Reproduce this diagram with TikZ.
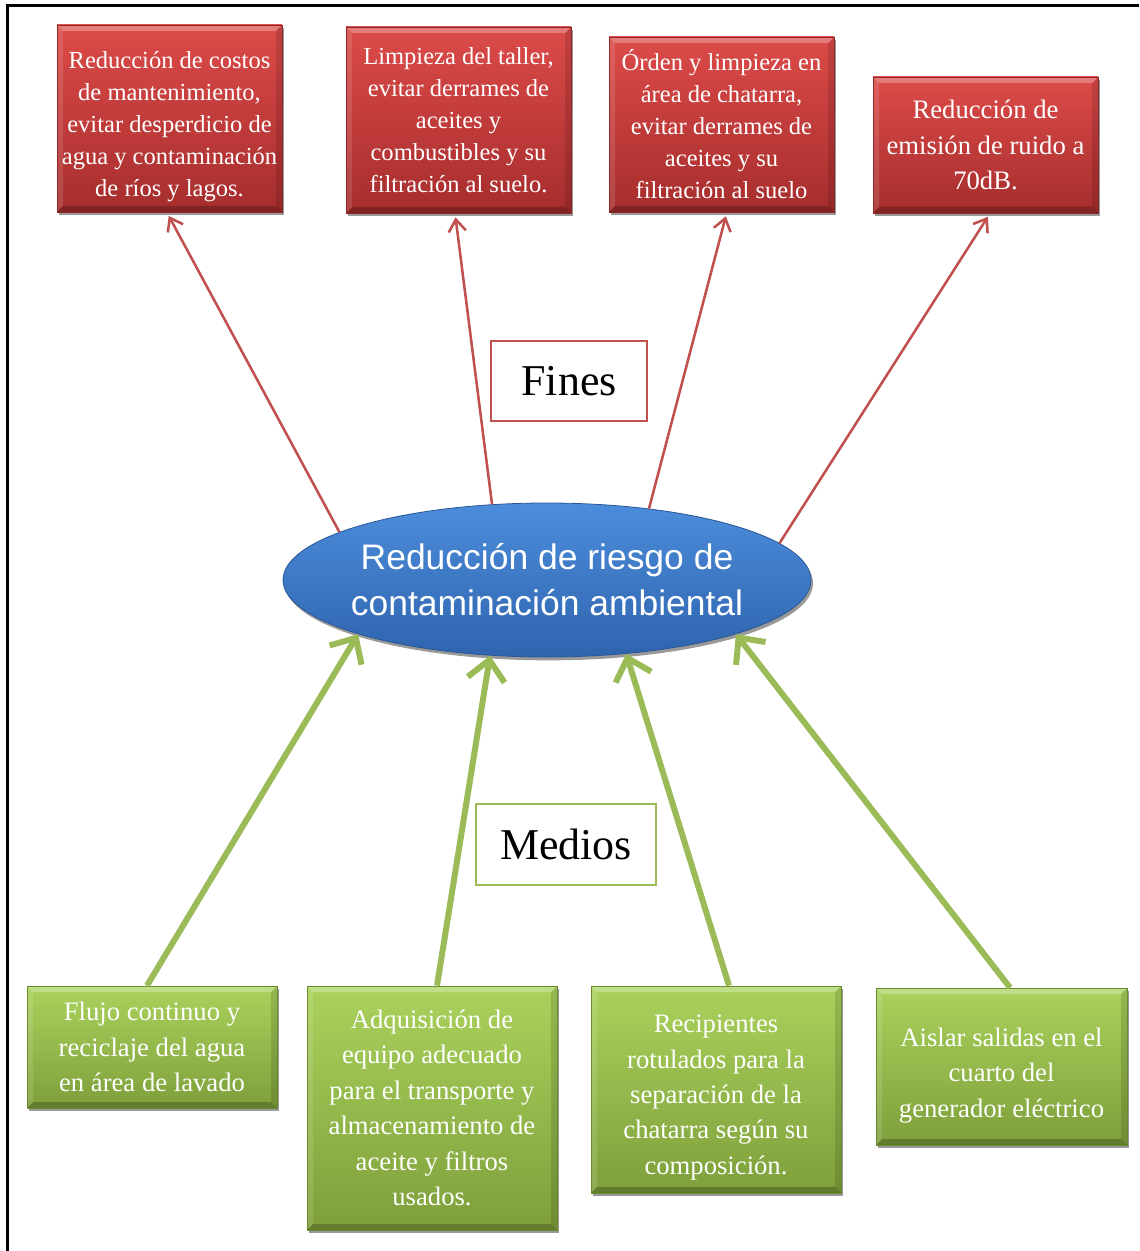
\documentclass[tikz,border=0pt]{standalone}
\usepackage{fontspec}
\setmainfont{Liberation Serif}
\newfontfamily\labelsans{Liberation Sans}
\usetikzlibrary{arrows.meta,shadows,shapes.geometric}

\definecolor{finline}{HTML}{C0504D}
\definecolor{redtop}{HTML}{DC4B49}
\definecolor{redbot}{HTML}{A62D2D}
\definecolor{rededge}{HTML}{8E2626}
\definecolor{medline}{HTML}{9BBB59}
\definecolor{greentop}{HTML}{AAD25C}
\definecolor{greenbot}{HTML}{7E9F3B}
\definecolor{greenedge}{HTML}{6A8A30}
\definecolor{bluetop}{HTML}{4C8DDB}
\definecolor{bluebot}{HTML}{2F64AE}
\definecolor{blueedge}{HTML}{2A5896}

% lower a centred block of lines without changing its size
\newcommand{\lowerblock}[3]{\raisebox{-#1}[\height][\depth]{\parbox{#2}{\centering #3}}}

\tikzset{
  x=0.75pt, y=-0.75pt,
  boxshadow/.style={drop shadow={shadow xshift=1.5pt, shadow yshift=-2.5pt, opacity=0.4, fill=black}},
  % soft bevel: light band on top and left, dark band on bottom and right
  bevel/.style={path picture={
    \coordinate (bnw) at (path picture bounding box.north west);
    \coordinate (bne) at (path picture bounding box.north east);
    \coordinate (bsw) at (path picture bounding box.south west);
    \coordinate (bse) at (path picture bounding box.south east);
    \fill[white, opacity=0.28] (bnw) -- (bne) -- ([xshift=-4.5pt,yshift=-4.5pt]bne) -- ([xshift=4.5pt,yshift=-4.5pt]bnw) -- cycle;
    \fill[white, opacity=0.12] (bnw) -- ([xshift=4.5pt,yshift=-4.5pt]bnw) -- ([xshift=4.5pt,yshift=4.5pt]bsw) -- (bsw) -- cycle;
    \fill[black, opacity=0.22] (bsw) -- (bse) -- ([xshift=-4.5pt,yshift=4.5pt]bse) -- ([xshift=4.5pt,yshift=4.5pt]bsw) -- cycle;
    \fill[black, opacity=0.12] (bne) -- (bse) -- ([xshift=-4.5pt,yshift=4.5pt]bse) -- ([xshift=-4.5pt,yshift=-4.5pt]bne) -- cycle;
  }},
  finbox/.style={rectangle, draw=rededge, line width=0.6pt, top color=redtop, bottom color=redbot,
    text=white, align=center, inner sep=0pt, boxshadow, bevel,
    font=\fontsize{18.4}{24}\selectfont},
  medbox/.style={rectangle, draw=greenedge, line width=0.6pt, top color=greentop, bottom color=greenbot,
    text=white, align=center, inner sep=0pt, boxshadow, bevel,
    font=\fontsize{20}{26.6}\selectfont},
  tagbox/.style={rectangle, fill=white, line width=1.9pt, inner sep=0pt, text=black,
    font=\fontsize{33}{38}\selectfont},
  hub/.style={ellipse, draw=blueedge, line width=0.6pt, top color=bluetop, bottom color=bluebot,
    text=white, align=center, inner xsep=-40pt, inner ysep=-12pt,
    minimum width=396pt, minimum height=115.5pt,
    boxshadow, font=\labelsans\fontsize{26.6}{34.5}\selectfont},
  finarrow/.style={draw=finline, line width=1.9pt, shorten >=3pt,
    -{Straight Barb[length=9pt, width=13pt]}},
  medarrow/.style={draw=medline, line width=4.5pt,
    -{Straight Barb[length=15pt, width=28pt]}},
}

\begin{document}
\begin{tikzpicture}
\useasboundingbox (0,0) rectangle (1139,1251);

% page frame (top and left edges)
\draw[line width=2.25pt] (7,1251) -- (7,6) -- (1139,6);

% central problem
\node[hub] (ell) at (547,580) {Reducción de riesgo de\\contaminación ambiental};

% ends
\node[finbox, minimum width=168.75pt, minimum height=140.25pt] (r1) at (169.5,118.5)
  {\lowerblock{6pt}{168pt}{Reducción de costos\\de mantenimiento,\\evitar desperdicio de\\agua y contaminación\\de ríos y lagos.}};
\node[finbox, minimum width=168.75pt, minimum height=139.5pt] (r2) at (458.5,120)
  {Limpieza del taller,\\evitar derrames de\\aceites y\\combustibles y su\\filtración al suelo.};
\node[finbox, minimum width=168.75pt, minimum height=131.25pt] (r3) at (721.5,124.5)
  {Órden y limpieza en\\área de chatarra,\\evitar derrames de\\aceites y su\\filtración al suelo};
\node[finbox, minimum width=168.75pt, minimum height=102pt, font=\fontsize{20}{26.6}\selectfont] (r4) at (985.5,145)
  {Reducción de\\emisión de ruido a\\70dB.};

% means
\node[medbox, minimum width=187.5pt, minimum height=91.5pt] (g1) at (152,1047)
  {Flujo continuo y\\reciclaje del agua\\en área de lavado};
\node[medbox, minimum width=187.5pt, minimum height=183pt] (g2) at (432,1108)
  {Adquisición de\\equipo adecuado\\para el transporte y\\almacenamiento de\\aceite y filtros\\usados.};
\node[medbox, minimum width=187.5pt, minimum height=155.25pt] (g3) at (716,1089.5)
  {\lowerblock{6pt}{186pt}{Recipientes\\rotulados para la\\separación de la\\chatarra según su\\composición.}};
\node[medbox, minimum width=188.25pt, minimum height=117.75pt] (g4) at (1001.5,1066.5)
  {\lowerblock{6.5pt}{186pt}{Aislar salidas en el\\cuarto del\\generador eléctrico}};

% arrows towards the ends
\draw[finarrow] (ell.167) -- ([xshift=-2pt]r1.south);
\draw[finarrow] (ell.126) -- ([xshift=-2.6pt]r2.south);
\draw[finarrow] (ell.35) -- ([xshift=4pt]r3.south);
\draw[finarrow] (ell.9) -- ([xshift=3.4pt]r4.south);

% arrows from the means
\draw[medarrow] ([xshift=-3.75pt]g1.north) -- (ell.196.5);
\draw[medarrow] ([xshift=3.75pt]g2.north) -- (ell.233);
\draw[medarrow] ([xshift=9.75pt]g3.north) -- (ell.317);
\draw[medarrow] ([xshift=6.4pt]g4.north) -- (ell.344.6);

% section labels
\node[tagbox, draw=finline, minimum width=117pt, minimum height=60pt] (fines) at (569,381) {Fines};
\node[tagbox, draw=medline, minimum width=135pt, minimum height=60.75pt] (medios) at (566,844.5) {Medios};
\end{tikzpicture}
\end{document}
